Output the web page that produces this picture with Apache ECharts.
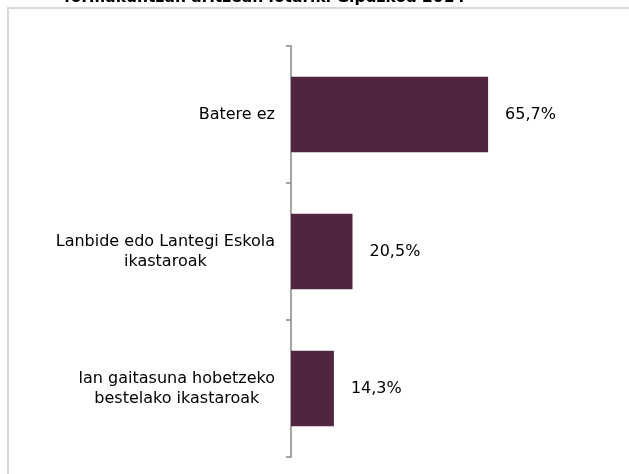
<!DOCTYPE html>
<html>
<head>
<meta charset="utf-8">
<script src="https://cdn.jsdelivr.net/npm/echarts@6/dist/echarts.min.js"></script>
<style>html,body{margin:0;padding:0;background:#fff;overflow:hidden}#c{width:629px;height:474px}</style>
</head>
<body>
<div id="c"></div>
<script>
const titleText = 'formakuntzan aritzean lotariki Gipuzkoa 2014';
const categories = ['Batere ez', 'Lanbide edo Lantegi Eskola\nikastaroak', 'lan gaitasuna hobetzeko\nbestelako ikastaroak'];
const values = [65.7, 20.5, 14.3];

const chart = echarts.init(document.getElementById('c'), null, {renderer: 'canvas'});
const FONT = '"DejaVu Sans", Verdana, sans-serif';
chart.setOption({
  animation: false,
  backgroundColor: '#fff',
  title: {
    text: titleText,
    left: 64,
    top: -10,
    padding: 0,
    textStyle: {fontFamily: FONT, fontWeight: 'bold', fontSize: 15.5, color: '#000'}
  },
  graphic: [{
    type: 'rect', silent: true, z: -1,
    shape: {x: 8, y: 8, width: 2000, height: 2000},
    style: {fill: 'none', stroke: '#d9d9d9', lineWidth: 2}
  }],
  grid: {left: 291, top: 46, width: 300, height: 411, containLabel: false},
  xAxis: {
    type: 'value', min: 0, max: 100, show: false
  },
  yAxis: {
    type: 'category',
    data: categories,
    inverse: true,
    axisLine: {show: true, lineStyle: {color: '#868686', width: 1.5}},
    axisTick: {show: true, length: 5, lineStyle: {color: '#868686', width: 1.5}},
    axisLabel: {
      margin: 16,
      fontFamily: FONT, fontSize: 16, color: '#000', lineHeight: 20,
      formatter: function (v) {
        return v.split('\n').map(function (s) { return '{c|' + s + '}'; }).join('\n');
      },
      rich: {c: {align: 'center', fontFamily: FONT, fontSize: 16, color: '#000', lineHeight: 20}}
    }
  },
  series: [{
    type: 'bar',
    data: values,
    barWidth: '55%',
    itemStyle: {color: '#51243F'},
    label: {
      show: true, position: 'right', distance: 17,
      fontFamily: FONT, fontSize: 16, color: '#000',
      formatter: function (p) { return p.value.toFixed(1).replace('.', ',') + '%'; }
    }
  }]
});
</script>
</body>
</html>
